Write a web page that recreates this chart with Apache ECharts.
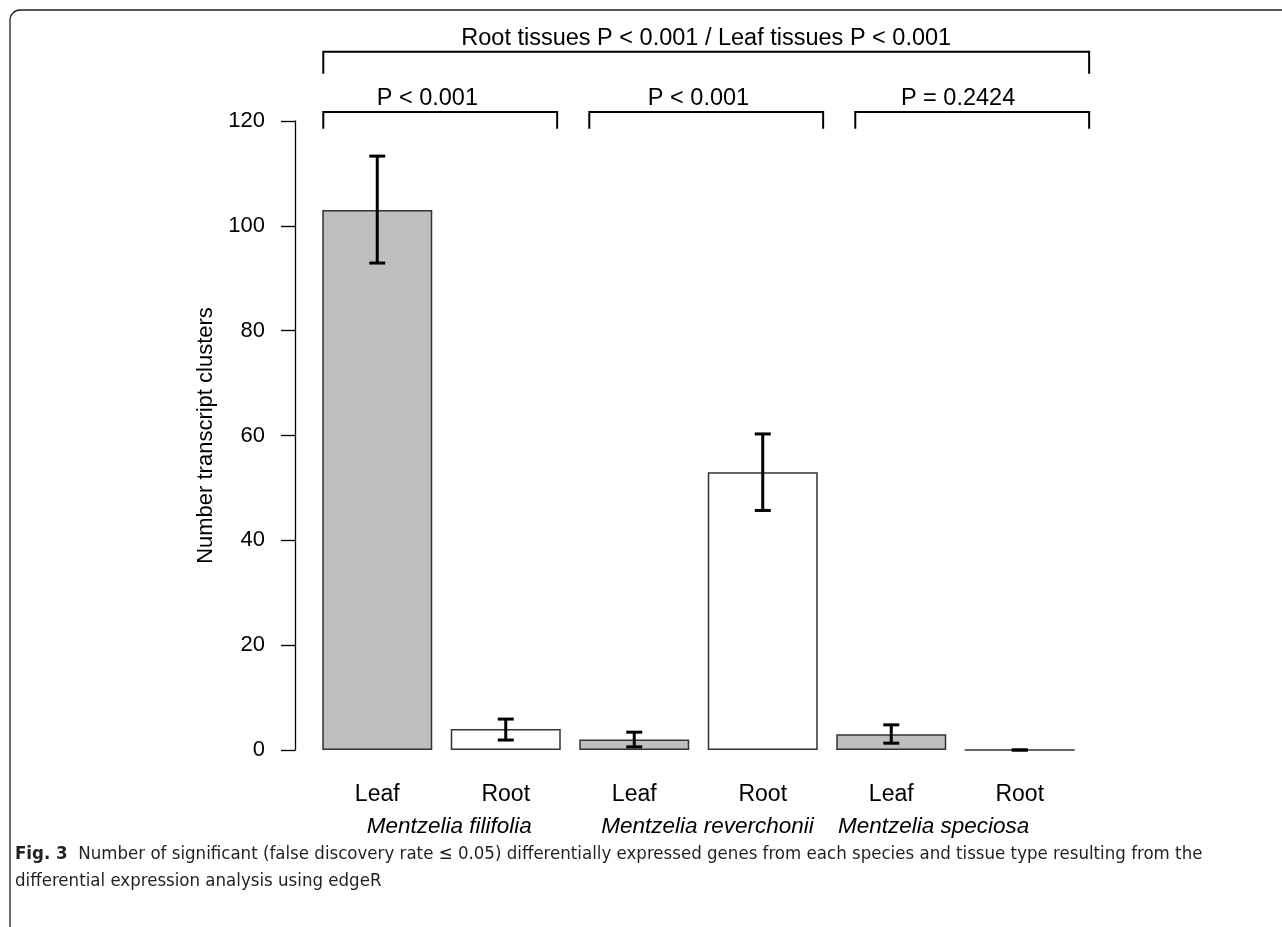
<!DOCTYPE html>
<html>
<head>
<meta charset="utf-8">
<script src="https://cdn.jsdelivr.net/npm/echarts@6/dist/echarts.min.js"></script>
<style>
html,body{margin:0;padding:0;background:#fff;}
#chart{width:1282px;height:927px;}
</style>
</head>
<body>
<div id="chart"></div>
<script>
// ---- data ----
var categories = ['Leaf', 'Root', 'Leaf', 'Root', 'Leaf', 'Root'];
var tissue = ['leaf', 'root', 'leaf', 'root', 'leaf', 'root'];
var values = [103, 4, 2, 53, 3, 0];
var errLow = [92.9, 1.9, 0.6, 45.7, 1.3, 0];
var errHigh = [113.3, 5.9, 3.4, 60.3, 4.8, 0];
var yTicks = [0, 20, 40, 60, 80, 100, 120];
// brackets (x in bar-index units, y in axis units)
var bracketStart = [-0.42, -0.42, 1.65, 3.72];
var bracketEnd = [5.54, 1.40, 3.47, 5.54];
var bracketY = [133.2, 121.7, 121.7, 121.7];
var bracketTickEnd = [129.0, 118.5, 118.5, 118.5];
var bracketTextX = [2.56, 0.39, 2.5, 4.52];
var bracketTextY = [135.7, 124.2, 124.2, 124.2];
var bracketLabels = ['Root tissues P < 0.001 / Leaf tissues P < 0.001', 'P < 0.001', 'P < 0.001', 'P = 0.2424'];
var species = ['Mentzelia filifolia', 'Mentzelia reverchonii', 'Mentzelia speciosa'];
var speciesX = [0.56, 2.57, 4.33];
var speciesY = [-14.6, -14.6, -14.6];
var caption1 = 'Number of significant (false discovery rate \u2264 0.05) differentially expressed genes from each species and tissue type resulting from the';
var caption2 = 'differential expression analysis using edgeR';

var FONT = '"Liberation Sans", Arial, sans-serif';
var CAPFONT = '"DejaVu Sans Condensed", "Liberation Sans Narrow", sans-serif';
var fillColor = { leaf: '#bebebe', root: '#ffffff' };

var chart = echarts.init(document.getElementById('chart'));

var barData = values.map(function (v, i) {
  return { value: v, itemStyle: { color: fillColor[tissue[i]] } };
});
var errData = values.map(function (v, i) { return [i, errLow[i], errHigh[i]]; });
var bracketData = bracketLabels.map(function (l, i) {
  return [bracketStart[i], bracketEnd[i], bracketY[i], bracketTickEnd[i], bracketTextX[i], bracketTextY[i]];
});
var speciesData = species.map(function (s, i) { return [speciesX[i], speciesY[i]]; });

var option = {
  animation: false,
  backgroundColor: '#ffffff',
  title: {
    left: 10, top: 836, padding: 5,
    text: '{b|Fig. 3}  ' + caption1 + '\n' + caption2,
    textStyle: {
      fontFamily: CAPFONT,
      fontSize: 18.5, fontWeight: 'normal', color: '#231f20', lineHeight: 27,
      rich: { b: { fontWeight: 'bold', fontSize: 18.5, color: '#231f20', fontFamily: CAPFONT } }
    }
  },
  graphic: [{
    type: 'rect', silent: true,
    shape: { x: 10, y: 10, width: 1400, height: 1000, r: 10 },
    style: { fill: 'none', stroke: '#231f20', lineWidth: 1.3 }
  }],
  grid: { left: 313, right: 198, top: 121, bottom: 177, containLabel: false },
  xAxis: [{
    type: 'category', data: categories,
    axisLine: { show: false }, axisTick: { show: false },
    axisLabel: { color: '#000', fontSize: 23, fontFamily: FONT, margin: 33 }
  }, {
    type: 'value', min: -0.5, max: 5.5, show: false
  }],
  yAxis: {
    type: 'value', min: 0, max: 120, interval: 20, offset: 18,
    name: 'Number transcript clusters', nameLocation: 'middle', nameGap: 73,
    nameTextStyle: { color: '#000', fontSize: 22, fontFamily: FONT },
    axisLine: { show: true, onZero: false, lineStyle: { color: '#000', width: 1.3 } },
    axisTick: { show: true, length: 14, lineStyle: { color: '#000', width: 1.3 } },
    axisLabel: { color: '#000', fontSize: 22, fontFamily: FONT, margin: 30,
      formatter: function (v) { return yTicks.indexOf(v) >= 0 ? String(v) : ''; } },
    splitLine: { show: false }
  },
  series: [{
    type: 'bar', data: barData, barWidth: 110,
    itemStyle: { borderColor: '#333', borderWidth: 1.5 }
  }, {
    type: 'custom', data: errData, z: 5,
    renderItem: function (params, api) {
      var x = api.value(0);
      var lo = api.coord([x, api.value(1)]);
      var hi = api.coord([x, api.value(2)]);
      var cw = 8;
      var st = { stroke: '#000', lineWidth: 3 };
      return { type: 'group', children: [
        { type: 'line', shape: { x1: lo[0], y1: lo[1], x2: hi[0], y2: hi[1] }, style: st },
        { type: 'line', shape: { x1: hi[0] - cw, y1: hi[1], x2: hi[0] + cw, y2: hi[1] }, style: st },
        { type: 'line', shape: { x1: lo[0] - cw, y1: lo[1], x2: lo[0] + cw, y2: lo[1] }, style: st }
      ] };
    }
  }, {
    type: 'custom', xAxisIndex: 1, data: bracketData, clip: false, z: 5,
    renderItem: function (params, api) {
      var a = api.coord([api.value(0), api.value(2)]);
      var b = api.coord([api.value(1), api.value(2)]);
      var t = api.coord([api.value(0), api.value(3)]);
      var tx = api.coord([api.value(4), api.value(5)]);
      return { type: 'group', children: [
        { type: 'polyline', shape: { points: [[a[0], t[1]], a, b, [b[0], t[1]]] },
          style: { stroke: '#000', lineWidth: 2, fill: 'none' } },
        { type: 'text', x: tx[0], y: tx[1],
          style: { text: bracketLabels[params.dataIndex], fill: '#000', font: '23.5px ' + FONT,
            align: 'center', verticalAlign: 'middle' } }
      ] };
    }
  }, {
    type: 'custom', xAxisIndex: 1, data: speciesData, clip: false, z: 5,
    renderItem: function (params, api) {
      var p = api.coord([api.value(0), api.value(1)]);
      return { type: 'text', x: p[0], y: p[1],
        style: { text: species[params.dataIndex], fill: '#000', font: 'italic 22.5px ' + FONT,
          align: 'center', verticalAlign: 'middle' } };
    }
  }]
};
chart.setOption(option);
</script>
</body>
</html>
